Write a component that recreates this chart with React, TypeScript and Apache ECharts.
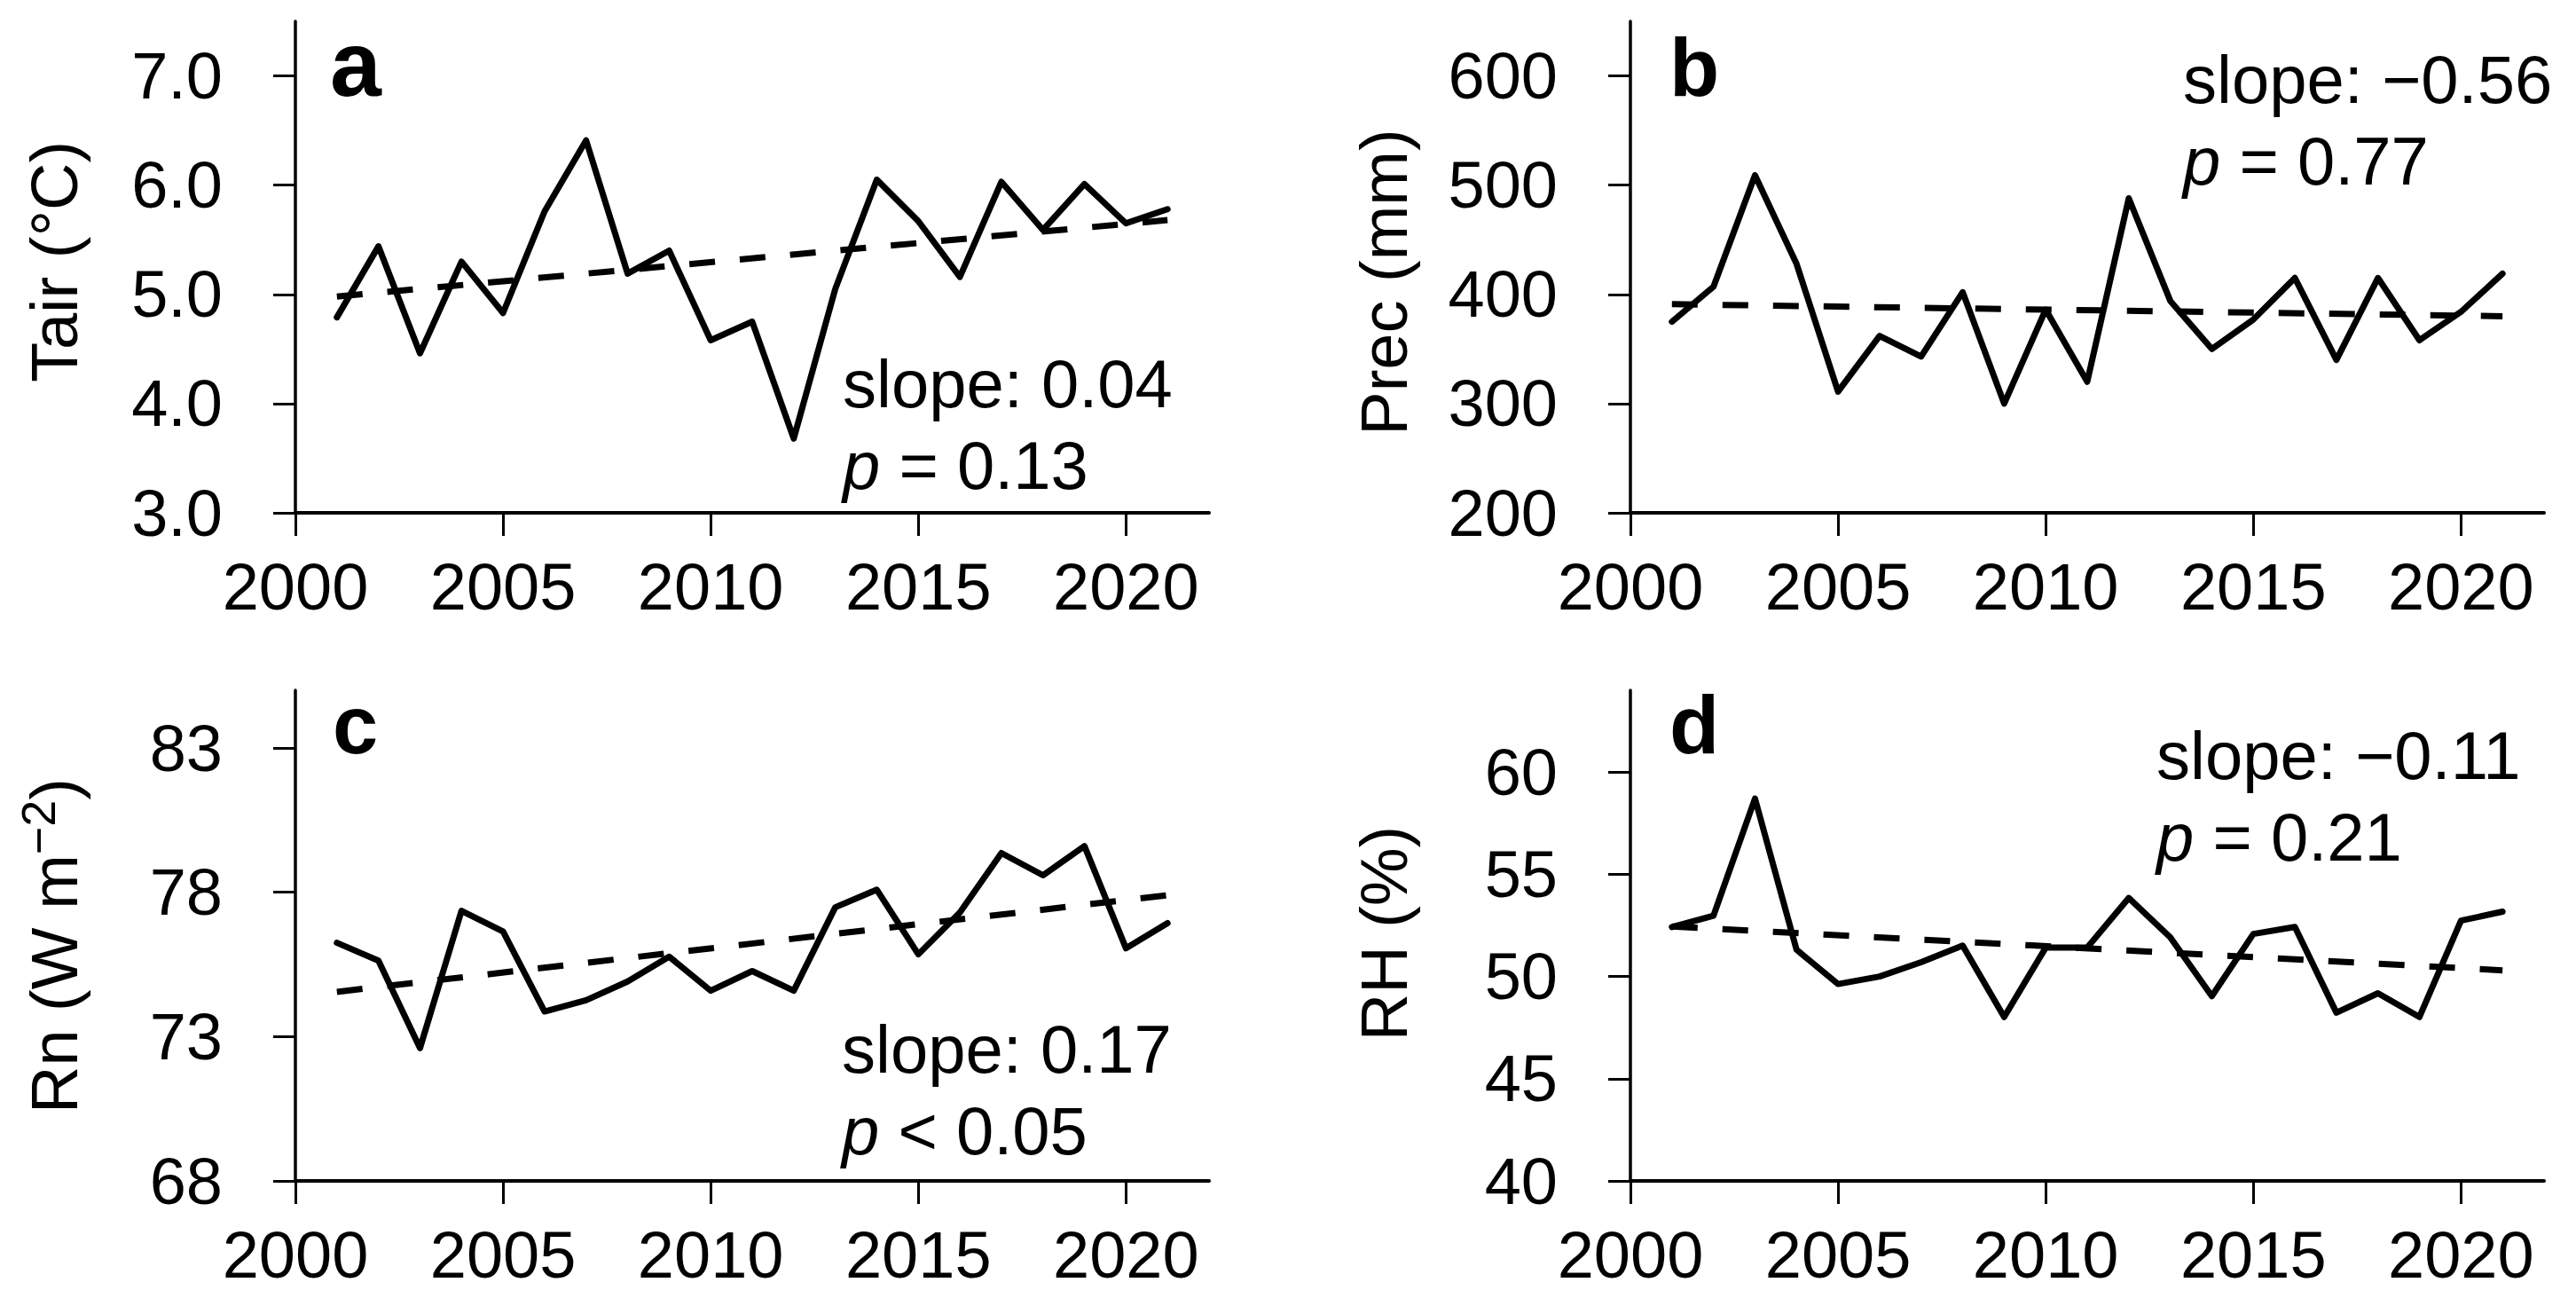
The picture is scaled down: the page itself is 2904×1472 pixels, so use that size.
import React, { useEffect, useRef } from "react";
import * as echarts from "echarts";

// ---------------- data ----------------
const years = [2001, 2002, 2003, 2004, 2005, 2006, 2007, 2008, 2009, 2010, 2011, 2012, 2013, 2014, 2015, 2016, 2017, 2018, 2019, 2020, 2021];
const xTicks = [2000, 2005, 2010, 2015, 2020];

const tair = [4.79, 5.44, 4.46, 5.3, 4.83, 5.76, 6.41, 5.19, 5.4, 4.58, 4.75, 3.68, 5.05, 6.05, 5.67, 5.16, 6.03, 5.59, 6.01, 5.65, 5.78];
const prec = [375, 407, 509, 428, 311, 362, 343, 402, 300, 386, 320, 488, 394, 350, 377, 415, 340, 415, 358, 384, 419];
const rn = [76.25, 75.63, 72.6, 77.36, 76.64, 73.87, 74.26, 74.91, 75.77, 74.59, 75.27, 74.59, 77.48, 78.09, 75.85, 77.3, 79.36, 78.59, 79.6, 76.06, 76.93];
const rh = [52.42, 52.97, 58.7, 51.31, 49.63, 50.0, 50.7, 51.51, 48.02, 51.41, 51.41, 53.84, 51.91, 49.04, 52.08, 52.42, 48.23, 49.18, 48.02, 52.73, 53.17];

// trend line end values (at 2001 and 2021)
const tairTrend = [4.98, 5.68];
const precTrend = [391, 380];
const rnTrend = [74.55, 77.9];
const rhTrend = [52.45, 50.3];

const tairTicks = [3, 4, 5, 6, 7];
const precTicks = [200, 300, 400, 500, 600];
const rnTicks = [68, 73, 78, 83];
const rhTicks = [40, 45, 50, 55, 60];

const yRanges = [
  [3, 7.5],
  [200, 650],
  [68, 85],
  [40, 64],
];
const xRange = [2000, 2022];

const letters = ["a", "b", "c", "d"];
const slopeTexts = ["slope: 0.04", "slope: \u22120.56", "slope: 0.17", "slope: \u22120.11"];
const pTexts = ["= 0.13", "= 0.77", "< 0.05", "= 0.21"];

// ---------------- layout ----------------
const FONT = "'Liberation Sans', Arial, Helvetica, sans-serif";
const GRIDS = [
  { left: 333, top: 24, width: 1030, height: 554 },
  { left: 1838, top: 24, width: 1030, height: 554 },
  { left: 333, top: 778, width: 1030, height: 553 },
  { left: 1838, top: 778, width: 1030, height: 553 },
];
const LETTER_POS = [
  { x: 372, y: 72, size: 104 },
  { x: 1882, y: 76, size: 92 },
  { x: 375, y: 817, size: 92 },
  { x: 1882, y: 817, size: 92 },
];
const ANNOT_POS = [
  { x: 950, y: 386 },
  { x: 2461, y: 43 },
  { x: 949, y: 1136 },
  { x: 2431, y: 805 },
];

export default function App() {
  const ref = useRef<HTMLDivElement>(null);

  useEffect(() => {
    document.body.style.margin = "0";
    if (!ref.current) return;
    const chart = echarts.init(ref.current, undefined, { renderer: "svg" });

    const seriesValues = [tair, prec, rn, rh];
    const trends = [tairTrend, precTrend, rnTrend, rhTrend];
    const yTicks = [tairTicks, precTicks, rnTicks, rhTicks];
    const yFormat = [
      (v: number) => v.toFixed(1),
      (v: number) => String(v),
      (v: number) => String(v),
      (v: number) => String(v),
    ];

    const grid = GRIDS.map((g) => ({ ...g, containLabel: false }));

    const xAxis = GRIDS.map((_, i) => ({
      type: "value",
      gridIndex: i,
      min: xRange[0],
      max: xRange[1],
      splitLine: { show: false },
      axisLine: { show: true, onZero: false, lineStyle: { color: "#000", width: 4 } },
      axisTick: { show: true, inside: false, length: 26, customValues: xTicks, lineStyle: { color: "#000", width: 3 } },
      axisLabel: {
        show: true,
        customValues: xTicks,
        margin: 46,
        fontSize: 74,
        fontFamily: FONT,
        color: "#000",
        formatter: (v: number) => String(v),
      },
    }));

    const yAxis = GRIDS.map((_, i) => ({
      type: "value",
      gridIndex: i,
      min: yRanges[i][0],
      max: yRanges[i][1],
      splitLine: { show: false },
      axisLine: { show: true, onZero: false, lineStyle: { color: "#000", width: 3.5 } },
      axisTick: { show: true, inside: false, length: 25, customValues: yTicks[i], lineStyle: { color: "#000", width: 3 } },
      axisLabel: {
        show: true,
        customValues: yTicks[i],
        margin: 82,
        fontSize: 74,
        fontFamily: FONT,
        color: "#000",
        formatter: yFormat[i],
      },
    }));

    const series: any[] = [];
    seriesValues.forEach((vals, i) => {
      series.push({
        type: "line",
        xAxisIndex: i,
        yAxisIndex: i,
        data: years.map((y, k) => [y, vals[k]]),
        showSymbol: false,
        symbol: "none",
        lineStyle: { color: "#000", width: 7, join: "round", cap: "round" },
        z: 2,
      });
      series.push({
        type: "line",
        xAxisIndex: i,
        yAxisIndex: i,
        data: [
          [years[0], trends[i][0]],
          [years[years.length - 1], trends[i][1]],
        ],
        showSymbol: false,
        symbol: "none",
        lineStyle: { color: "#000", width: 7, type: [29, 28] },
        z: 3,
      });
    });

    const graphic: any[] = [];
    // axis titles
    const titleStyle = { fontSize: 74, fontFamily: FONT, fill: "#000", align: "center", verticalAlign: "middle" };
    graphic.push({ type: "text", x: 61, y: 295, rotation: Math.PI / 2, style: { ...titleStyle, text: "Tair (\u00B0C)" } });
    graphic.push({ type: "text", x: 1560, y: 318, rotation: Math.PI / 2, style: { ...titleStyle, text: "Prec (mm)" } });
    graphic.push({
      type: "text",
      x: 61,
      y: 1066,
      rotation: Math.PI / 2,
      style: {
        ...titleStyle,
        lineHeight: 90,
        text: "Rn (W m{sup|\u22122})",
        rich: {
          sup: { fontSize: 54, lineHeight: 54, verticalAlign: "top", fontFamily: FONT, fill: "#000" },
        },
      },
    });
    graphic.push({ type: "text", x: 1560, y: 1052, rotation: Math.PI / 2, style: { ...titleStyle, text: "RH (%)" } });

    // panel letters
    letters.forEach((t, i) => {
      graphic.push({
        type: "text",
        x: LETTER_POS[i].x,
        y: LETTER_POS[i].y,
        style: {
          text: t,
          fontSize: LETTER_POS[i].size,
          fontWeight: "bold",
          fontFamily: FONT,
          fill: "#000",
          align: "left",
          verticalAlign: "middle",
        },
      });
    });

    // annotations
    slopeTexts.forEach((s, i) => {
      graphic.push({
        type: "text",
        x: ANNOT_POS[i].x,
        y: ANNOT_POS[i].y,
        style: {
          text: s + "\n{i|p} " + pTexts[i],
          fontSize: 76,
          lineHeight: 92,
          fontFamily: FONT,
          fill: "#000",
          align: "left",
          verticalAlign: "top",
          rich: {
            i: { fontSize: 76, lineHeight: 92, fontStyle: "italic", fontFamily: FONT, fill: "#000" },
          },
        },
      });
    });

    chart.setOption({
      animation: false,
      backgroundColor: "#fff",
      grid,
      xAxis,
      yAxis,
      series,
      graphic,
    });

    return () => {
      chart.dispose();
    };
  }, []);

  return <div ref={ref} style={{ width: 2904, height: 1472 }} />;
}
